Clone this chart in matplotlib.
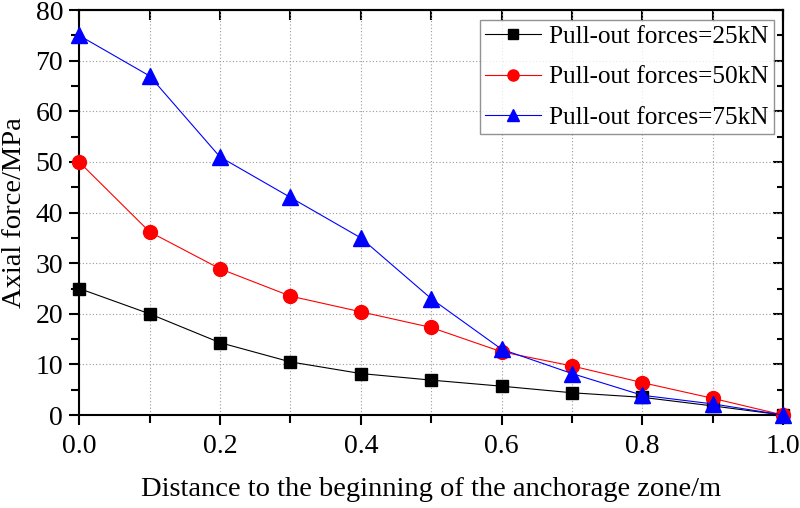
import matplotlib
matplotlib.use("Agg")
import matplotlib.pyplot as plt
from matplotlib.ticker import MultipleLocator

x = [0.0, 0.1, 0.2, 0.3, 0.4, 0.5, 0.6, 0.7, 0.8, 0.9, 1.0]
f25 = [25.0, 20.0, 14.3, 10.5, 8.2, 6.9, 5.7, 4.4, 3.5, 1.8, 0.0]
f50 = [50.0, 36.2, 28.9, 23.5, 20.4, 17.3, 12.5, 9.7, 6.4, 3.3, 0.0]
f75 = [75.0, 67.0, 51.0, 43.0, 35.0, 23.0, 13.0, 8.2, 3.9, 2.2, 0.0]
labels = ["Pull-out forces=25kN", "Pull-out forces=50kN", "Pull-out forces=75kN"]

plt.rcParams['font.family'] = ['Liberation Serif', 'DejaVu Serif']
plt.rcParams['mathtext.fontset'] = 'stix'

fig = plt.figure(figsize=(8.0, 5.08), dpi=100)
ax = fig.add_axes([0.099, 0.183, 0.88, 0.797])

ax.plot(x, f25, color='black', lw=0.8, marker='s', ms=9, mfc='black', mec='black', label=labels[0], clip_on=False, zorder=3)
ax.plot(x, f50, color='red', lw=0.8, marker='o', ms=10, mfc='red', mec='red', label=labels[1], clip_on=False, zorder=3)
ax.plot(x, f75, color='blue', lw=0.8, marker='^', ms=11, mfc='blue', mec='blue', label=labels[2], clip_on=False, zorder=3)

ax.set_xlim(0, 1.0)
ax.set_ylim(0, 80)
ax.xaxis.set_major_locator(MultipleLocator(0.2))
ax.xaxis.set_minor_locator(MultipleLocator(0.1))
ax.yaxis.set_major_locator(MultipleLocator(10))
ax.yaxis.set_minor_locator(MultipleLocator(5))

grid_kw = dict(color='#999999', ls=(0, (1, 2)), lw=0.8)
ax.grid(True, which='major', axis='y', **grid_kw)
ax.grid(True, which='both', axis='x', **grid_kw)
ax.grid(False, which='minor', axis='y')

ax.tick_params(which='major', direction='out', length=7.5, width=1.5, labelsize=20)
ax.tick_params(which='minor', direction='out', length=6, width=1.5)
ax.tick_params(axis='y', which='major', pad=4)
ax.tick_params(axis='x', which='major', pad=6)
ax.tick_params(axis='x', which='both', top=False)
ax.tick_params(axis='y', which='both', right=False)

secx = ax.secondary_xaxis('top')
secx.set_xticks([i / 10 for i in range(11)])
secx.tick_params(direction='in', length=7.5, width=1.5, labeltop=False)
secy = ax.secondary_yaxis('right')
secy.yaxis.set_major_locator(MultipleLocator(10))
secy.yaxis.set_minor_locator(MultipleLocator(5))
secy.tick_params(which='major', direction='in', length=7.5, width=1.5, labelright=False)
secy.tick_params(which='minor', direction='in', length=4.5, width=1.5)
for s in list(secx.spines.values()) + list(secy.spines.values()) + list(ax.spines.values()):
    s.set_linewidth(1.5)

ax.set_xlabel("Distance to the beginning of the anchorage zone/m", fontsize=20.5, labelpad=13)
ax.set_ylabel("Axial force/MPa", fontsize=20.5)
ax.yaxis.set_label_coords(-0.074, 0.5)

leg = ax.legend(loc='upper right', bbox_to_anchor=(0.987, 0.975), fontsize=18.2, frameon=True, fancybox=False,
                edgecolor='#777777', handlelength=2.2, borderpad=0.2, labelspacing=0.7, handletextpad=0.35,
                borderaxespad=0.0, markerscale=0.8)
leg.get_frame().set_linewidth(1.0)

fig.savefig("out.png", dpi=100)
